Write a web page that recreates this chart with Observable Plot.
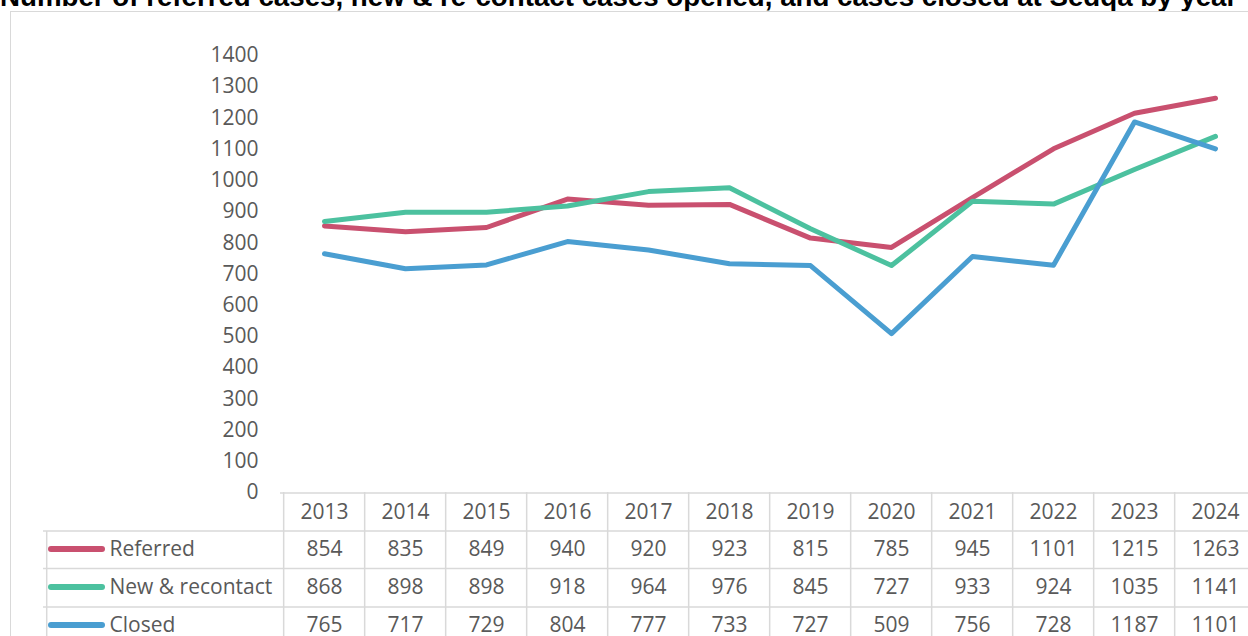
<!DOCTYPE html>
<html>
<head>
<meta charset="utf-8">
<script src="https://cdn.jsdelivr.net/npm/d3@7"></script>
<script src="https://cdn.jsdelivr.net/npm/@observablehq/plot@0.6"></script>
<style>
  html, body { margin: 0; padding: 0; background: #fff; overflow: hidden; width: 1248px; height: 636px; }
  #wrap { position: relative; width: 1248px; height: 636px; overflow: hidden; }
  #title { position: absolute; left: 0; top: -17px; font-family: "Liberation Sans", Arial, sans-serif; font-weight: bold;
           font-size: 27.7px; line-height: 27.7px; white-space: nowrap; color: #000; }
  #border { position: absolute; left: 10px; top: 11px; width: 1400px; height: 800px; border: 1.5px solid #d9d9d9; pointer-events: none; }
  #chart { position: absolute; left: 0; top: 0; }
</style>
</head>
<body>
<div id="wrap">
  <div id="title">Number of referred cases, new &amp; re-contact cases opened, and cases closed at Sedqa by year</div>
  <div id="chart"></div>
  <div id="border"></div>
</div>
<script>
const years = [2013, 2014, 2015, 2016, 2017, 2018, 2019, 2020, 2021, 2022, 2023, 2024];
const seriesNames = ["Referred", "New & recontact", "Closed"];
const referred = [854, 835, 849, 940, 920, 923, 815, 785, 945, 1101, 1215, 1263];
const newRecontact = [868, 898, 898, 918, 964, 976, 845, 727, 933, 924, 1035, 1141];
const closed = [765, 717, 729, 804, 777, 733, 727, 509, 756, 728, 1187, 1101];
const seriesColors = ["#c9506f", "#4cc19f", "#4a9ed1"];
const yTicks = d3.range(0, 1401, 100);

const seriesValues = [referred, newRecontact, closed];
const long = seriesNames.flatMap((name, s) => years.map((year, i) => ({series: name, year, value: seriesValues[s][i]})));

const colW = 81.65;
const gridColor = "#d9d9d9";
const textColor = "#595959";
const fs = 21;
const rowDy = [56.5, 94.5, 132.5];      // row centres below the chart bottom
const rowLines = [38.5, 76, 114.5, 153]; // row boundaries below the chart bottom

const marks = [];

// Table grid
marks.push(Plot.ruleY([0], {dy: 0.5, insetLeft: 237, stroke: gridColor, strokeWidth: 1.5}));
for (const d of rowLines) marks.push(Plot.ruleY([0], {dy: d, stroke: gridColor, strokeWidth: 1.5}));
marks.push(Plot.ruleX(years, {x: d => d, dx: -colW / 2, insetTop: 437, insetBottom: -153, stroke: gridColor, strokeWidth: 1.5}));
marks.push(Plot.ruleX([years[0]], {x: d => d, dx: 43 - 320.8, insetTop: 476, insetBottom: -153, stroke: gridColor, strokeWidth: 1.5}));

// Y axis
marks.push(Plot.axisY({ticks: yTicks, tickFormat: d => String(d), tickSize: 0, tickPadding: 0, dx: 215, fontSize: fs, label: null, fill: textColor}));

// Lines
marks.push(Plot.line(long, {x: "year", y: "value", z: "series", stroke: "series", strokeWidth: 5, strokeLinecap: "round", strokeLinejoin: "round"}));

// Table header
marks.push(Plot.text(years, {x: d => d, text: d => String(d), frameAnchor: "bottom", lineAnchor: "middle", dy: 20, fontSize: fs, fill: textColor}));

// Table rows
seriesNames.forEach((name, s) => {
  const rows = long.filter(d => d.series === name);
  marks.push(Plot.text(rows, {x: "year", text: d => String(d.value), frameAnchor: "bottom", lineAnchor: "middle", dy: rowDy[s], fontSize: fs, fill: textColor}));
  marks.push(Plot.ruleY([0], {dy: rowDy[s], insetLeft: 8, insetRight: 1146, stroke: seriesColors[s], strokeWidth: 6, strokeLinecap: "round"}));
  marks.push(Plot.text([name], {text: d => d, frameAnchor: "bottom-left", lineAnchor: "middle", dx: 66, dy: rowDy[s], textAnchor: "start", fontSize: fs, fill: textColor}));
});

const chart = Plot.plot({
  width: 1248,
  height: 636,
  marginLeft: 43,
  marginRight: 0,
  marginTop: 55,
  marginBottom: 144,
  style: {fontFamily: "'Open Sans', sans-serif", fontSize: fs + "px", color: textColor, background: "transparent", maxWidth: "none"},
  x: {type: "point", domain: years, range: [320.8, 320.8 + 11 * colW], padding: 0, axis: null},
  y: {domain: [0, 1400], range: [492, 55]},
  color: {domain: seriesNames, range: seriesColors},
  marks
});
document.getElementById("chart").appendChild(chart);
</script>
</body>
</html>
